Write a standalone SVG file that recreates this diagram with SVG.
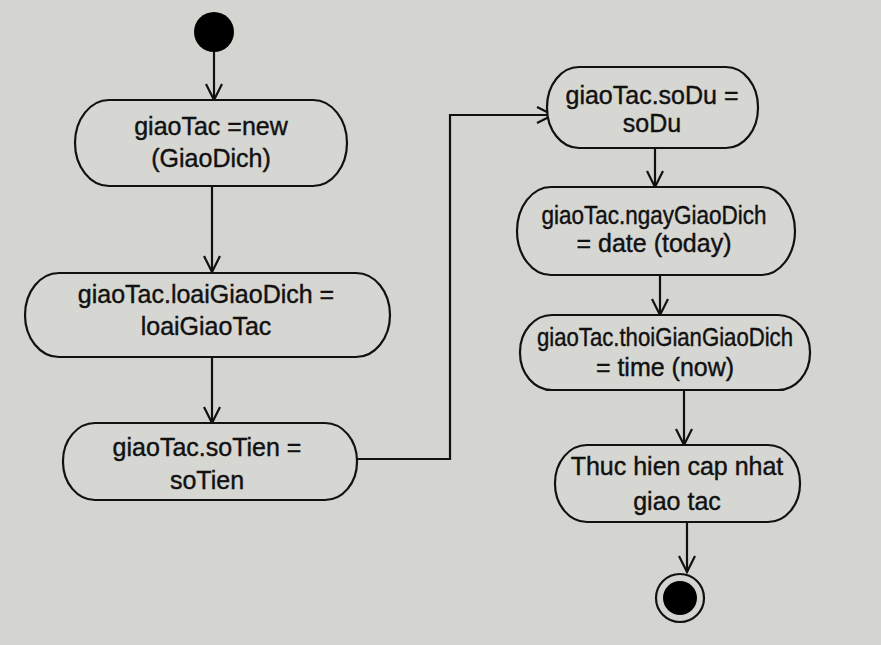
<svg xmlns="http://www.w3.org/2000/svg" width="881" height="645" viewBox="0 0 881 645">
<style>
.bg{fill:#d4d4d0}
.node rect{fill:#d6d6d2;stroke:#111;stroke-width:2.2}
.node text{font-family:"Liberation Sans",Arial,sans-serif;font-size:25px;fill:#111;stroke:#111;stroke-width:0.4;text-anchor:middle}
.conn path{fill:none;stroke:#111;stroke-width:2.2}
</style>
<defs>
<marker id="arr" viewBox="0 0 20 20" refX="18" refY="10" markerWidth="20" markerHeight="20" markerUnits="userSpaceOnUse" orient="auto">
<path d="M2,2 L18,10 L2,18" fill="none" stroke="#111" stroke-width="2.2"/>
</marker>
</defs>
<rect class="bg" x="0" y="0" width="881" height="645"/>
<g class="conn">
<path d="M214,52 V100" marker-end="url(#arr)"/>
<path d="M212,186 V272" marker-end="url(#arr)"/>
<path d="M212,357 V423" marker-end="url(#arr)"/>
<path d="M357,459 H450 V115 H553" marker-end="url(#arr)"/>
<path d="M655,148 V187" marker-end="url(#arr)"/>
<path d="M660,275 V315" marker-end="url(#arr)"/>
<path d="M684,390 V445" marker-end="url(#arr)"/>
<path d="M687,522 V572" marker-end="url(#arr)"/>
</g>
<g id="start"><circle cx="214" cy="32" r="20" fill="#000"/></g>
<g id="n1" class="node"><rect x="75" y="100" width="272" height="86" rx="34" ry="43"/>
<text x="211" y="135">giaoTac =new</text><text x="211" y="167">(GiaoDich)</text></g>
<g id="n2" class="node"><rect x="25" y="273" width="365" height="84" rx="34" ry="42"/>
<text x="206" y="303">giaoTac.loaiGiaoDich =</text><text x="206" y="335">loaiGiaoTac</text></g>
<g id="n3" class="node"><rect x="63" y="423" width="294" height="77" rx="32" ry="38"/>
<text x="207" y="456">giaoTac.soTien =</text><text x="207" y="489">soTien</text></g>
<g id="n4" class="node"><rect x="547" y="67" width="211" height="81" rx="32" ry="40"/>
<text x="652" y="104">giaoTac.soDu =</text><text x="652" y="132">soDu</text></g>
<g id="n5" class="node"><rect x="517" y="187" width="278" height="88" rx="34" ry="44"/>
<text x="654" y="224" textLength="225" lengthAdjust="spacingAndGlyphs">giaoTac.ngayGiaoDich</text><text x="654" y="252">= date (today)</text></g>
<g id="n6" class="node"><rect x="520" y="315" width="290" height="75" rx="32" ry="37"/>
<text x="665" y="346" textLength="256" lengthAdjust="spacingAndGlyphs">giaoTac.thoiGianGiaoDich</text><text x="665" y="376">= time (now)</text></g>
<g id="n7" class="node"><rect x="555" y="445" width="245" height="77" rx="32" ry="38"/>
<text x="677" y="475">Thuc hien cap nhat</text><text x="677" y="510">giao tac</text></g>
<g id="end"><circle cx="680" cy="598" r="24" fill="none" stroke="#111" stroke-width="2.2"/><circle cx="680" cy="598" r="17" fill="#000"/></g>
</svg>
